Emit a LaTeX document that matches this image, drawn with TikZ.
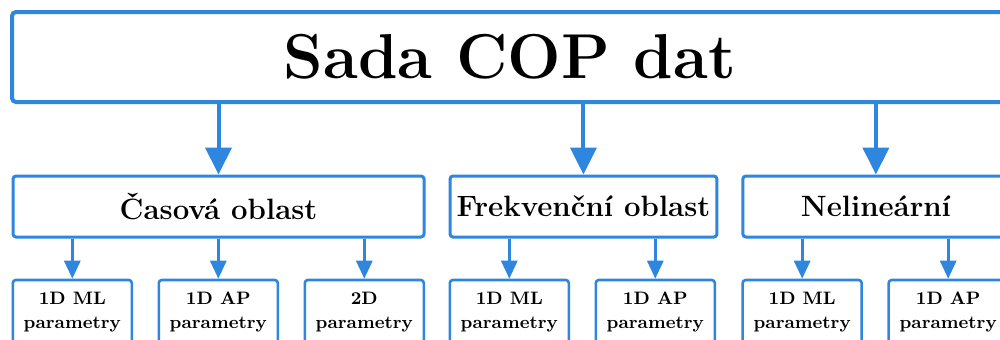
\documentclass[tikz,border=0pt]{standalone}
\usepackage{tikz}
\usepackage{xcolor}
\usetikzlibrary{arrows.meta,positioning}
\definecolor{copblue}{RGB}{46,134,222}
\tikzset{
  coptop/.style={draw=copblue, line width=2pt, rounded corners=2pt, fill=white, align=center, minimum width=498pt, minimum height=45pt, font=\fontsize{31.7}{36}\selectfont\bfseries},
  copmid/.style={draw=copblue, line width=1.5pt, rounded corners=1.5pt, fill=white, align=center, minimum height=30.5pt, font=\fontsize{14.7}{17}\selectfont\bfseries},
  copleaf/.style={draw=copblue, line width=1.3pt, rounded corners=1.5pt, fill=white, align=center, minimum width=59.5pt, minimum height=32pt, inner sep=1pt, font=\fontsize{9}{12}\selectfont\bfseries},
  coparr/.style={-{Triangle[width=13pt,length=13.5pt]}, line width=2pt, draw=copblue},
  coparrsmall/.style={-{Triangle[width=8pt,length=9pt]}, line width=1.5pt, draw=copblue}
}
\begin{document}
\begin{tikzpicture}[x=0.5pt, y=-0.5pt, node distance=20.1pt and 12.2pt]
  \useasboundingbox (0,0) rectangle (1000,339);
  \node[coptop] (sada) at (510,57) {Sada COP dat};
  \node[copmid, minimum width=205.5pt, below=35.25pt of sada.south west, anchor=north west, xshift=0.75pt] (cas) {Časová oblast};
  \node[copmid, minimum width=133pt, right=11.5pt of cas] (frek) {Frekvenční oblast};
  \node[copmid, minimum width=133pt, right=11.5pt of frek] (nel) {Nelineární};
  % casova oblast
  \node[copleaf, below=of cas.south west, anchor=north west] (cas1) {1D ML\\parametry};
  \node[copleaf, right=of cas1] (cas2) {1D AP\\parametry};
  \node[copleaf, right=of cas2] (cas3) {2D\\parametry};
  % frekvencni oblast
  \node[copleaf, below=of frek.south west, anchor=north west] (frek1) {1D ML\\parametry};
  \node[copleaf, right=of frek1] (frek2) {1D AP\\parametry};
  % nelinearni
  \node[copleaf, below=of nel.south west, anchor=north west] (nel1) {1D ML\\parametry};
  \node[copleaf, right=of nel1] (nel2) {1D AP\\parametry};
  \draw[coparr] (sada.south -| cas.north) -- (cas.north);
  \draw[coparr] (sada.south -| frek.north) -- (frek.north);
  \draw[coparr] (sada.south -| nel.north) -- (nel.north);
  \draw[coparrsmall] (cas.south -| cas1.north) -- (cas1.north);
  \draw[coparrsmall] (cas.south -| cas2.north) -- (cas2.north);
  \draw[coparrsmall] (cas.south -| cas3.north) -- (cas3.north);
  \draw[coparrsmall] (frek.south -| frek1.north) -- (frek1.north);
  \draw[coparrsmall] (frek.south -| frek2.north) -- (frek2.north);
  \draw[coparrsmall] (nel.south -| nel1.north) -- (nel1.north);
  \draw[coparrsmall] (nel.south -| nel2.north) -- (nel2.north);
\end{tikzpicture}
\end{document}
